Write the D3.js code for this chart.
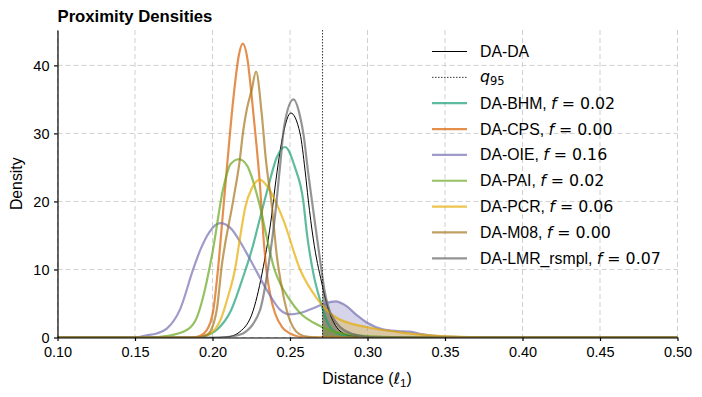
<!DOCTYPE html>
<html lang="en">
<head>
<meta charset="UTF-8">
<title>Proximity Densities</title>
<style>
  body { margin: 0; background: #fff; }
  svg { display: block; font-family: "Liberation Sans", Arial, sans-serif; }
</style>
</head>
<body>
<div id="chart"></div>
<script src="https://cdn.jsdelivr.net/npm/d3@7/dist/d3.min.js"></script>
<script>
// density curves, [distance, density]
const daDa = [[0.10,0],[0.20,0],[0.21,0.1],[0.2177,0.85],[0.2263,4],[0.2328,10.4],[0.2382,18],[0.2403,22],[0.2457,30],[0.2505,33],[0.2565,30],[0.2597,24.6],[0.2618,20.2],[0.265,14.5],[0.2705,8],[0.275,4],[0.2801,1.5],[0.2844,0.6],[0.29,0.2],[0.30,0],[0.50,0]];
const daBhm = [[0.10,0],[0.19,0],[0.195,0.2],[0.2027,1.1],[0.212,4],[0.2199,9],[0.2255,13],[0.2306,17.5],[0.236,22.2],[0.2415,26.5],[0.2468,28],[0.2532,25],[0.2586,20],[0.2608,15.5],[0.265,9.5],[0.2694,5.5],[0.2737,2.5],[0.278,1.0],[0.285,0.3],[0.295,0],[0.50,0]];
const daCps = [[0.10,0],[0.185,0],[0.19,0.1],[0.1963,1.1],[0.2005,4],[0.2037,10.4],[0.207,19],[0.2095,25.5],[0.2134,35],[0.217,41.5],[0.2195,43.2],[0.2225,41],[0.2253,35.4],[0.2285,28],[0.2306,22.5],[0.2328,15],[0.235,9.5],[0.2375,6],[0.2403,3.6],[0.245,1.5],[0.25,0.6],[0.255,0.15],[0.262,0],[0.50,0]];
const daOie = [[0.10,0],[0.15,0],[0.157,0.3],[0.164,0.6],[0.1705,1.3],[0.179,4.1],[0.1875,10],[0.192,12.8],[0.198,15.5],[0.205,16.8],[0.212,16],[0.218,14],[0.2242,11.5],[0.235,7],[0.2435,4.1],[0.25,3.4],[0.2565,3.6],[0.265,4.3],[0.2725,5.0],[0.2795,5.3],[0.2865,4.6],[0.2935,3.2],[0.2995,2.2],[0.31,1.2],[0.32,0.95],[0.3275,0.85],[0.335,0.5],[0.345,0.2],[0.36,0.05],[0.38,0],[0.50,0]];
const daPai = [[0.10,0],[0.16,0],[0.17,0.2],[0.1834,1.1],[0.19,3],[0.194,6],[0.20,12.5],[0.207,22],[0.2117,25.5],[0.2171,26.2],[0.2225,25.2],[0.2253,23.6],[0.2296,20.2],[0.24,10],[0.25,5.5],[0.2565,3.6],[0.265,2.2],[0.278,0.9],[0.29,0.4],[0.31,0.1],[0.33,0],[0.50,0]];
const daPcr = [[0.10,0],[0.19,0],[0.198,0.5],[0.205,2.5],[0.21,6],[0.2145,10],[0.218,15],[0.221,19],[0.2255,22],[0.2306,23.2],[0.236,22],[0.2457,17.3],[0.2565,10],[0.2672,5.8],[0.28,2.9],[0.30,1.5],[0.32,0.8],[0.34,0.3],[0.36,0.1],[0.38,0],[0.50,0]];
const daM08 = [[0.10,0],[0.19,0],[0.197,0.5],[0.2027,4],[0.2059,10.4],[0.2134,20.2],[0.2173,25.6],[0.2199,30.5],[0.2221,33.5],[0.2253,36.4],[0.2281,39.1],[0.2317,33],[0.2345,26],[0.2382,19.5],[0.2415,12],[0.245,7],[0.2485,3.5],[0.252,1.5],[0.256,0.5],[0.262,0.1],[0.27,0],[0.50,0]];
const daLmr = [[0.10,0],[0.205,0],[0.212,0.15],[0.2197,0.6],[0.2306,4],[0.236,10.4],[0.2403,17.8],[0.2435,25],[0.2462,31],[0.2522,35],[0.2565,32.5],[0.2586,30],[0.2618,24.1],[0.2644,19.7],[0.2694,11.4],[0.2726,6.5],[0.2801,2.1],[0.2906,0.5],[0.30,0.1],[0.31,0],[0.50,0]];

const seriesNames = ["DA-DA", "DA-BHM", "DA-CPS", "DA-OIE", "DA-PAI", "DA-PCR", "DA-M08", "DA-LMR_rsmpl"];
const fractions = [null, "0.02", "0.00", "0.16", "0.02", "0.06", "0.00", "0.07"];
const seriesData = [daDa, daBhm, daCps, daOie, daPai, daPcr, daM08, daLmr];
const colors = ["#000000", "#1b9e77", "#d95f02", "#7570b3", "#66a61e", "#e6ab02", "#a6761d", "#666666"];
const q95 = 0.271;
const xTicks = [0.10, 0.15, 0.20, 0.25, 0.30, 0.35, 0.40, 0.45, 0.50];
const yTicks = [0, 10, 20, 30, 40];

const width = 702, height = 397;
const plotLeft = 57.5, plotRight = 677.5, plotTop = 30, plotBottom = 337.5;

const svg = d3.select("#chart").append("svg")
    .attr("width", width).attr("height", height);

const x = d3.scaleLinear().domain([0.1, 0.5]).range([plotLeft, plotRight]);
const y = d3.scaleLinear().domain([0, 45.2]).range([plotBottom, plotTop]);

// clip areas
const defs = svg.append("defs");
defs.append("clipPath").attr("id", "plot")
    .append("rect").attr("x", plotLeft).attr("y", plotTop)
    .attr("width", plotRight - plotLeft).attr("height", plotBottom - plotTop);
defs.append("clipPath").attr("id", "tail")
    .append("rect").attr("x", x(q95)).attr("y", plotTop)
    .attr("width", plotRight - x(q95)).attr("height", plotBottom - plotTop);

// grid
svg.append("g").selectAll("line").data(xTicks).join("line")
    .attr("x1", d => x(d)).attr("x2", d => x(d)).attr("y1", plotTop).attr("y2", plotBottom)
    .attr("stroke", "#d0d0d0").attr("stroke-dasharray", "5,3");
svg.append("g").selectAll("line").data(yTicks).join("line")
    .attr("x1", plotLeft).attr("x2", plotRight).attr("y1", d => y(d)).attr("y2", d => y(d))
    .attr("stroke", "#d0d0d0").attr("stroke-dasharray", "5,3");

const line = d3.line().x(d => x(d[0])).y(d => y(d[1])).curve(d3.curveMonotoneX);
const area = d3.area().x(d => x(d[0])).y0(y(0)).y1(d => y(d[1])).curve(d3.curveMonotoneX);

// shaded tails beyond q95
svg.append("g").attr("clip-path", "url(#tail)")
  .selectAll("path").data(seriesData).join("path")
    .attr("d", area)
    .attr("fill", (d, i) => colors[i])
    .attr("fill-opacity", 0.3);

// curves
svg.append("g").attr("clip-path", "url(#plot)")
  .selectAll("path").data(seriesData).join("path")
    .attr("d", line)
    .attr("fill", "none")
    .attr("stroke", (d, i) => colors[i])
    .attr("stroke-opacity", (d, i) => i === 0 ? 1 : 0.7)
    .attr("stroke-width", (d, i) => i === 0 ? 1 : 2.2);

// q95 line
svg.append("line")
    .attr("x1", x(q95)).attr("x2", x(q95)).attr("y1", plotTop).attr("y2", plotBottom)
    .attr("stroke", "#000").attr("stroke-width", 0.8).attr("stroke-dasharray", "1.5,1.5");

// axes
const xAxis = svg.append("g").attr("transform", `translate(0,${plotBottom})`)
    .call(d3.axisBottom(x).tickValues(xTicks).tickFormat(d3.format(".2f")).tickSize(3.5).tickPadding(5.5).tickSizeOuter(0));
const yAxis = svg.append("g").attr("transform", `translate(${plotLeft},0)`)
    .call(d3.axisLeft(y).tickValues(yTicks).tickSize(3.5).tickPadding(4.5).tickSizeOuter(0));
[xAxis, yAxis].forEach(g => {
  g.selectAll("text").attr("font-size", 14.5).attr("fill", "#000")
      .attr("font-family", "Liberation Sans, Arial, sans-serif");
  g.select(".domain").attr("stroke-width", 1.2);
  g.selectAll(".tick line").attr("stroke-width", 1.2);
});

// title and labels
svg.append("text").attr("x", plotLeft).attr("y", 22)
    .attr("font-size", 16.7).attr("font-weight", "bold").text("Proximity Densities");

const xl = svg.append("text").attr("x", 367).attr("y", 384)
    .attr("text-anchor", "middle").attr("font-size", 15.8);
xl.append("tspan").text("Distance (");
xl.append("tspan").attr("font-family", "DejaVu Sans").attr("font-style", "italic").text("ℓ");
xl.append("tspan").attr("font-size", 11.5).attr("dy", 3).text("1");
xl.append("tspan").attr("dy", -3).text(")");

svg.append("text").attr("transform", `translate(22,${(plotTop + plotBottom) / 2}) rotate(-90)`)
    .attr("text-anchor", "middle").attr("font-size", 15.8).text("Density");

// legend
const legend = svg.append("g");
const rowY = r => 51.5 + r * 25.85;
const rows = [0, 1, 2, 3, 4, 5, 6, 7, 8];
rows.forEach(r => {
  const g = legend.append("g");
  const yy = rowY(r);
  if (r === 1) {
    g.append("line").attr("x1", 432).attr("x2", 467).attr("y1", yy).attr("y2", yy)
        .attr("stroke", "#000").attr("stroke-width", 0.8).attr("stroke-dasharray", "1.5,1.5");
    const t = g.append("text").attr("x", 480).attr("y", yy + 5).attr("font-size", 15.8);
    t.append("tspan").attr("font-family", "DejaVu Sans").attr("font-style", "italic").text("q");
    t.append("tspan").attr("font-family", "DejaVu Sans").attr("font-size", 11.5).attr("dy", 3).text("95");
    return;
  }
  const i = r === 0 ? 0 : r - 1;
  g.append("line").attr("x1", 432).attr("x2", 467).attr("y1", yy).attr("y2", yy)
      .attr("stroke", colors[i]).attr("stroke-opacity", i === 0 ? 1 : 0.7)
      .attr("stroke-width", i === 0 ? 1 : 2.2);
  const t = g.append("text").attr("x", 480).attr("y", yy + 5.5).attr("font-size", 15.8);
  if (fractions[i] === null) {
    t.text(seriesNames[i]);
  } else {
    t.append("tspan").text(seriesNames[i] + ", ");
    t.append("tspan").attr("font-family", "DejaVu Sans").attr("font-style", "italic").text("f");
    t.append("tspan").attr("font-family", "DejaVu Sans").text(" = " + fractions[i]);
  }
});
</script>
</body>
</html>
